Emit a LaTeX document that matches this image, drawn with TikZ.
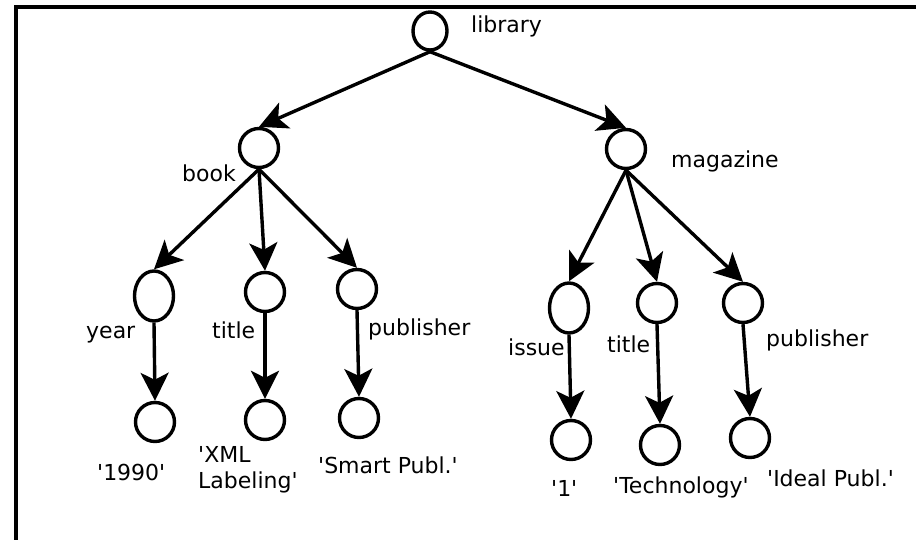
\documentclass[tikz,border=0pt]{standalone}
\usepackage{fontspec}
\setmainfont{DejaVu Sans}
\usetikzlibrary{arrows.meta,shapes.geometric}
\newcommand{\sq}{\textquotesingle}

\begin{document}
\begin{tikzpicture}[x=1pt,y=-1pt,>={Stealth[length=28pt,width=28pt,inset=7pt]},
  elem/.style={draw,ellipse,line width=3.4pt,minimum width=39pt,minimum height=39pt,inner sep=0pt},
  tallelem/.style={elem,minimum height=50pt},
  lbl/.style={anchor=base west,inner sep=0pt,font=\fontsize{22}{26}\selectfont},
  edge/.style={->,line width=3.4pt}]
  \useasboundingbox (0,0) rectangle (916,540);
  \draw[line width=4pt] (15.5,540) -- (15.5,7.5) -- (916,7.5);
  % element nodes
  \node[elem,minimum width=34pt,minimum height=38pt] (library) at (430,31) {};
  \node[elem] (book) at (259,148) {};
  \node[elem] (magazine) at (626,149) {};
  \node[tallelem] (year) at (154,296) {};
  \node[elem] (title1) at (265,292) {};
  \node[elem] (pub1) at (357,289) {};
  \node[elem] (v1990) at (155,422) {};
  \node[elem] (xml) at (265,420) {};
  \node[elem] (smart) at (359,418) {};
  \node[tallelem] (issue) at (569,308) {};
  \node[elem] (title2) at (657,303) {};
  \node[elem] (pub2) at (743,303) {};
  \node[elem] (one) at (571,440) {};
  \node[elem] (tech) at (660,445) {};
  \node[elem] (ideal) at (750,438) {};
  % labels
  \node[lbl] (libraryL) at (471,33) {library};
  \node[lbl] (bookL) at (182,182) {book};
  \node[lbl] (magazineL) at (671,168) {magazine};
  \node[lbl] (yearL) at (86,338) {year};
  \node[lbl] (title1L) at (212,338) {title};
  \node[lbl] (pub1L) at (368,335) {publisher};
  \node[lbl] (v1990L) at (97,480) {\sq1990\sq};
  \node[lbl,anchor=north west,align=left] (xmlL) at (198,446) {\sq XML\\Labeling\sq};
  \node[lbl] (smartL) at (318,473) {\sq Smart Publ.\sq};
  \node[lbl] (issueL) at (508,355) {issue};
  \node[lbl] (title2L) at (607,352) {title};
  \node[lbl] (pub2L) at (766,346) {publisher};
  \node[lbl] (oneL) at (551,496) {\sq1\sq};
  \node[lbl] (techL) at (613,493) {\sq Technology\sq};
  \node[lbl] (idealL) at (767,486) {\sq Ideal Publ.\sq};
  % edges
  \draw[edge] (library.south) -- (book.north);
  \draw[edge] (library.south) -- (magazine.north);
  \draw[edge] (book.south) -- (year.north);
  \draw[edge] (book.south) -- (title1.north);
  \draw[edge] (book.south) -- (pub1.north);
  \draw[edge] (magazine.south) -- (issue.north);
  \draw[edge] (magazine.south) -- (title2.north);
  \draw[edge] (magazine.south) -- (pub2.north);
  \draw[edge] (year.south) -- (v1990.north);
  \draw[edge] (title1.south) -- (xml.north);
  \draw[edge] (pub1.south) -- (smart.north);
  \draw[edge] (issue.south) -- (one.north);
  \draw[edge] (title2.south) -- (tech.north);
  \draw[edge] (pub2.south) -- (ideal.north);
\end{tikzpicture}
\end{document}
